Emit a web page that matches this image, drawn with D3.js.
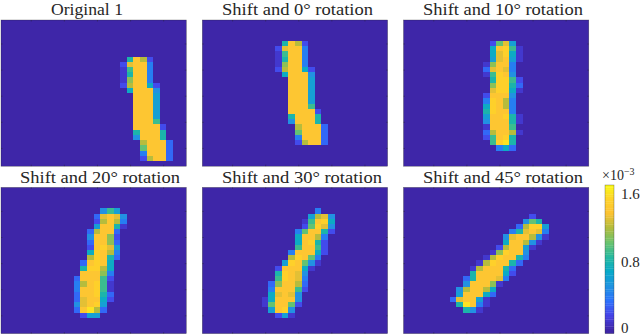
<!DOCTYPE html>
<html>
<head>
<meta charset="utf-8">
<script src="https://cdn.jsdelivr.net/npm/d3@7"></script>
<style>
  html, body { margin: 0; padding: 0; background: #fff; }
  svg { display: block; }
  text { font-family: "Liberation Serif", serif; fill: #262626; }
</style>
</head>
<body>
<svg id="chart" width="640" height="336">
  <defs><filter id="soft" x="-5%" y="-5%" width="110%" height="110%"><feGaussianBlur stdDeviation="0.35"/></filter></defs>
</svg>
<script>
const gridSize = 28;
const tickCells = [5, 10, 15, 20, 25];
const colorTicks = [0, 0.8, 1.6];
const colorStops = ["#3e26a8", "#4744e8", "#2c72fc", "#1f93e0", "#07a9c9", "#27b99f",
                    "#6cc36d", "#b2bc3e", "#fdc232", "#fed32a", "#f9fb15"];

const titles = ["Original 1", "Shift and 0° rotation", "Shift and 10° rotation",
                "Shift and 20° rotation", "Shift and 30° rotation", "Shift and 45° rotation"];
const titleWidths = [72, 151, 160, 160, 160, 160];
const titleCenters = [87, 297.5, 503, 100, 302, 503];

// each row: [row, first col, ...values], values in units of 1e-4, everything else is 0
const original1 = [
    [7, 19, 8, 14, 12, 2],
    [8, 18, 2, 13, 14, 14, 4],
    [9, 18, 1, 9, 14, 14, 4],
    [10, 18, 1, 8, 14, 14, 4],
    [11, 18, 1, 11, 14, 14, 4],
    [12, 18, 2, 12, 14, 14, 7, 2],
    [13, 19, 7, 14, 14, 14, 5],
    [14, 20, 14, 14, 14, 6],
    [15, 20, 14, 14, 14, 6],
    [16, 20, 14, 14, 14, 6],
    [17, 20, 14, 14, 14, 6],
    [18, 20, 14, 14, 14, 6],
    [19, 20, 14, 14, 14, 9],
    [20, 20, 14, 14, 14, 14, 2],
    [21, 20, 8, 14, 14, 14, 8],
    [22, 20, 5, 14, 14, 14, 8],
    [23, 21, 12, 14, 14, 14, 3],
    [24, 21, 10, 14, 14, 14, 3],
    [25, 21, 4, 14, 14, 14, 3],
    [26, 21, 2, 12, 14, 14, 3],
];

// same digit, moved up 3 rows and left 7 cols
const shift0 = original1.map(([r, c, ...v]) => [r - 3, c - 7, ...v]);

const shift10 = [
    [4, 13, 2, 10, 13, 6],
    [5, 13, 7, 14, 15, 9, 1],
    [6, 13, 7, 13, 15, 7, 1],
    [7, 13, 6, 13, 14, 6, 1],
    [8, 12, 1, 11, 14, 14, 4],
    [9, 12, 3, 13, 14, 13, 4],
    [10, 12, 1, 9, 15, 14, 5],
    [11, 13, 8, 15, 15, 9, 2],
    [12, 13, 11, 15, 15, 8, 3],
    [13, 13, 13, 15, 15, 7, 1],
    [14, 12, 2, 14, 14, 14, 5],
    [15, 12, 4, 15, 14, 12, 4],
    [16, 12, 7, 15, 14, 12, 4],
    [17, 12, 8, 15, 14, 14, 4],
    [18, 12, 6, 14, 14, 15, 8, 1],
    [19, 12, 5, 14, 14, 14, 8, 1],
    [20, 12, 1, 14, 14, 14, 9],
    [21, 12, 3, 12, 14, 14, 12, 1],
    [22, 12, 2, 9, 14, 15, 8],
    [23, 13, 9, 15, 16, 8],
    [24, 14, 4, 7, 3],
];

const shift20 = [
    [4, 15, 5, 9, 6],
    [5, 14, 3, 13, 14, 13, 5],
    [6, 14, 2, 12, 14, 12, 4],
    [7, 14, 6, 14, 14, 8, 1],
    [8, 13, 3, 12, 14, 14, 3],
    [9, 13, 5, 14, 14, 11, 2],
    [10, 13, 3, 14, 14, 11, 3],
    [11, 13, 2, 14, 15, 13, 6],
    [12, 13, 7, 15, 14, 12, 4],
    [13, 13, 12, 15, 14, 8, 3],
    [14, 12, 3, 14, 15, 14, 7],
    [15, 12, 8, 15, 15, 12, 7],
    [16, 12, 14, 14, 14, 11, 4],
    [17, 11, 3, 14, 14, 14, 9, 2],
    [18, 11, 4, 12, 14, 15, 9, 1],
    [19, 11, 4, 14, 14, 15, 9, 1],
    [20, 11, 3, 14, 14, 15, 8, 3],
    [21, 11, 3, 13, 14, 14, 7, 2],
    [22, 11, 5, 13, 14, 15, 6],
    [23, 11, 3, 14, 16, 12, 3],
    [24, 12, 2, 6, 6],
];

const shift30 = [
    [4, 17, 4],
    [5, 16, 6, 12, 13, 5],
    [6, 15, 1, 9, 14, 15, 7],
    [7, 15, 2, 10, 15, 13, 5],
    [8, 14, 4, 10, 14, 14, 8, 2],
    [9, 14, 7, 14, 14, 12, 4],
    [10, 14, 7, 14, 15, 8, 2],
    [11, 14, 9, 14, 14, 9, 2],
    [12, 13, 4, 14, 14, 14, 7, 2],
    [13, 13, 12, 15, 14, 10, 4],
    [14, 12, 6, 15, 14, 10, 5, 1],
    [15, 11, 2, 14, 14, 14, 7, 1],
    [16, 11, 8, 15, 14, 13, 5],
    [17, 11, 9, 15, 14, 13, 4],
    [18, 10, 3, 11, 14, 14, 12, 3],
    [19, 10, 4, 14, 14, 14, 9, 2],
    [20, 10, 7, 13, 14, 13, 5],
    [21, 9, 1, 7, 14, 14, 14, 5],
    [22, 9, 1, 10, 14, 14, 10, 2],
    [23, 10, 6, 14, 15, 5],
    [24, 11, 2, 6, 1],
];

const shift45 = [
    [5, 19, 2],
    [6, 18, 5, 10, 8],
    [7, 17, 3, 12, 15, 15, 6],
    [8, 16, 4, 8, 13, 14, 13, 4],
    [9, 15, 5, 13, 14, 14, 12, 5, 1],
    [10, 15, 7, 14, 14, 12, 5, 1],
    [11, 14, 2, 12, 14, 14, 6, 1],
    [12, 13, 1, 11, 15, 14, 14, 5],
    [13, 12, 1, 12, 15, 14, 14, 8, 4],
    [14, 11, 1, 12, 15, 14, 14, 8, 3],
    [15, 10, 1, 12, 14, 14, 14, 8, 3],
    [16, 10, 8, 14, 14, 14, 14, 7, 2],
    [17, 9, 3, 8, 14, 14, 14, 13, 4],
    [18, 9, 5, 14, 14, 14, 11, 1],
    [19, 8, 5, 12, 14, 14, 12, 7],
    [20, 8, 6, 14, 14, 14, 7, 3],
    [21, 7, 3, 13, 14, 14, 6, 1],
    [22, 8, 8, 16, 14, 4, 1],
    [23, 9, 8, 5, 1],
];

const panelRows = [original1, shift0, shift10, shift20, shift30, shift45];

const panelW = 185.3, panelH = 146.2;
const panelLefts = [1, 202.3, 403.5];
const panelTops = [20, 187.4];
const titleBaselines = [14.8, 183.3];

const color = d3.scaleLinear()
    .domain(colorStops.map((_, i) => i * 1.7))
    .range(colorStops)
    .clamp(true);

const svg = d3.select("#chart");

const x = d3.scaleLinear().domain([0.5, gridSize + 0.5]).range([0, panelW]);
const y = d3.scaleLinear().domain([0.5, gridSize + 0.5]).range([0, panelH]);
const cellW = x(1.5) - x(0.5), cellH = y(1.5) - y(0.5);

panelRows.forEach((rows, i) => {
    const rowIdx = Math.floor(i / 3);
    const g = svg.append("g")
        .attr("transform", `translate(${panelLefts[i % 3]},${panelTops[rowIdx]})`);

    g.append("rect")
        .attr("width", panelW).attr("height", panelH)
        .attr("fill", color(0));

    const cells = rows.flatMap(([r, c, ...v]) => v.map((val, k) => ({ r, c: c + k, val })));

    g.append("g")
        .attr("filter", "url(#soft)")
        .selectAll("rect")
        .data(cells)
        .join("rect")
        .attr("x", d => x(d.c + 0.5))
        .attr("y", d => y(d.r + 0.5))
        .attr("width", cellW)
        .attr("height", cellH)
        .attr("fill", d => color(d.val))
        .attr("shape-rendering", "crispEdges");

    // ticks only, matlab style pointing inward
    const axes = [
        [d3.axisBottom(x), 0, 0], [d3.axisTop(x), 0, panelH],
        [d3.axisRight(y), 0, 0], [d3.axisLeft(y), panelW, 0],
    ];
    axes.forEach(([axis, tx, ty]) => {
        const a = g.append("g")
            .attr("transform", `translate(${tx},${ty})`)
            .call(axis.tickValues(tickCells).tickSize(1.5).tickFormat(""));
        a.select(".domain").remove();
        a.selectAll("line").attr("stroke", "#262626").attr("stroke-width", 0.4);
    });

    g.append("rect")
        .attr("width", panelW).attr("height", panelH)
        .attr("fill", "none")
        .attr("stroke", "#262626")
        .attr("stroke-opacity", 0.6)
        .attr("stroke-width", 0.5);

    svg.append("text")
        .attr("x", titleCenters[i])
        .attr("y", titleBaselines[rowIdx])
        .attr("text-anchor", "middle")
        .attr("font-size", 16.5)
        .attr("textLength", titleWidths[i])
        .attr("lengthAdjust", "spacingAndGlyphs")
        .text(titles[i]);
});

// colorbar
const barLeft = 605, barW = 9, barTop = 185, barBottom = 333.3;
const barY = d3.scaleLinear().domain([-0.03, 1.7]).range([barBottom, barTop]);
const barLevels = d3.range(0, 64).map(i => -0.03 + i * 1.73 / 64);

const bar = svg.append("g");
bar.selectAll("rect")
    .data(barLevels)
    .join("rect")
    .attr("x", barLeft)
    .attr("y", d => barY(d + 1.73 / 64))
    .attr("width", barW)
    .attr("height", (barBottom - barTop) / 64 + 0.3)
    .attr("fill", d => color(d * 10));

bar.append("rect")
    .attr("x", barLeft).attr("y", barTop)
    .attr("width", barW).attr("height", barBottom - barTop)
    .attr("fill", "none")
    .attr("stroke", "#262626")
    .attr("stroke-opacity", 0.6)
    .attr("stroke-width", 0.5);

const barAxis = svg.append("g")
    .attr("transform", `translate(${barLeft + barW},0)`)
    .call(d3.axisRight(barY).tickValues(colorTicks).tickSize(0).tickPadding(7)
        .tickFormat(d => d === 0 ? "0" : d3.format(".1f")(d)));
barAxis.select(".domain").remove();
barAxis.selectAll("text")
    .attr("font-size", 15)
    .attr("font-family", "Liberation Serif")
    .attr("fill", "#262626")
    .attr("dy", d => d === 0 ? "1.8" : "0.32em"); // keep the 0 inside the picture

const expo = svg.append("text")
    .attr("x", 602)
    .attr("y", 180)
    .attr("font-size", 14);
expo.append("tspan").text("×10");
expo.append("tspan").attr("dy", -5).attr("font-size", 10).text("−3");
</script>
</body>
</html>
